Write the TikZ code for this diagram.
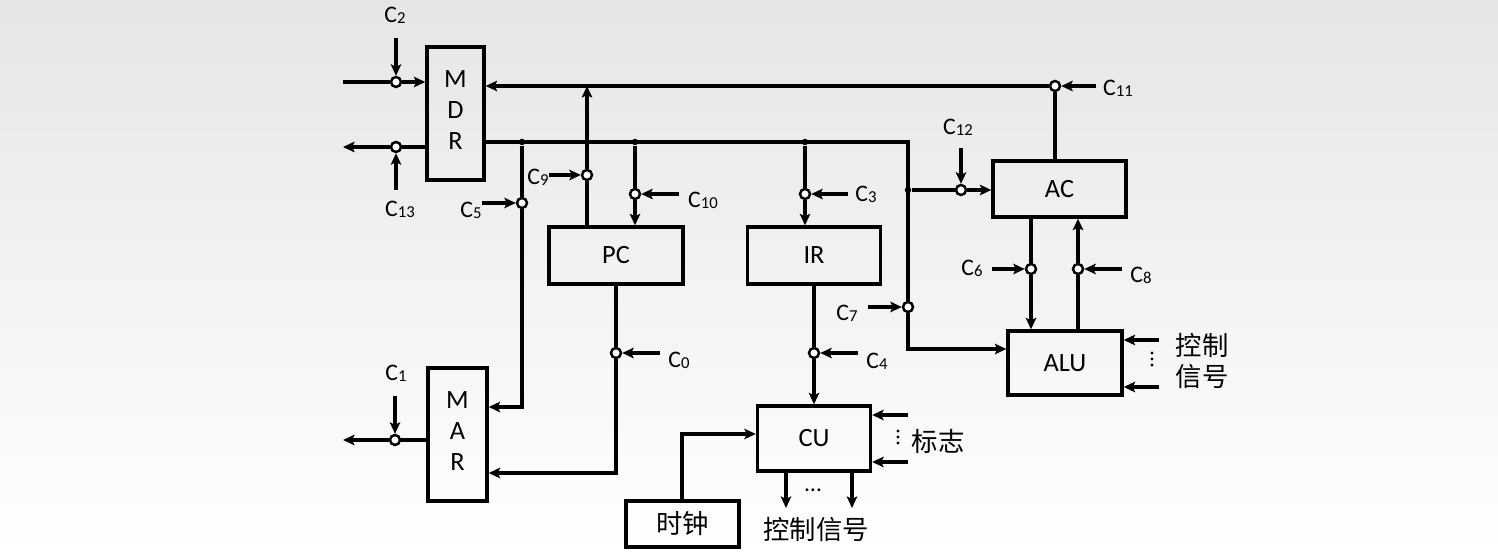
\documentclass[tikz,border=0pt]{standalone}
\usepackage{fontspec}
\setmainfont{Carlito}
\newfontfamily\cjk{Noto Sans CJK SC}
\usepackage{tikz}
\usetikzlibrary{arrows.meta,positioning}
\newcommand{\Cn}[1]{C\raisebox{-0.6pt}{\fontsize{9.5pt}{10pt}\selectfont #1}}

\begin{document}
\begin{tikzpicture}[
    x=0.02cm, y=-0.02cm,
    box/.style={draw, line width=1.9pt, inner sep=0pt, align=center, font=\fontsize{15pt}{17.6pt}\selectfont},
    gate/.style={circle, draw, fill=white, line width=1.4pt, inner sep=0pt, minimum size=0.2cm},
    jdot/.style={circle, fill=black, inner sep=0pt, minimum size=0.13cm},
    arr/.style={-{Stealth[length=2.3mm, width=2.1mm, inset=0.5mm]}, line width=1.9pt},
    vdot/.style={line width=1.8pt, line cap=round, dash pattern=on 0pt off 0.12cm},
    lbl/.style={inner sep=0pt, font=\fontsize{13.5pt}{15pt}\selectfont},
    zh/.style={inner sep=0pt, align=center, font=\cjk\fontsize{15pt}{17.6pt}\selectfont},
]
\useasboundingbox (0,0) rectangle (1498,553);
\shade[top color=black!10, bottom color=white] (0,0) rectangle (1498,553);

% Registers and units
\node[box, minimum width=1.14cm, minimum height=2.66cm, text depth=4pt] (mdr) at (455.5,113.5) {M\\D\\R};
\node[box, minimum width=1.18cm, minimum height=2.66cm, text depth=4pt] (mar) at (457.5,434.5) {M\\A\\R};
\node[box, minimum width=2.68cm, minimum height=1.14cm] (pc) at (616,255.5) {PC};
\node[box, minimum width=2.66cm, minimum height=1.14cm] (ir) at (814,255.5) {IR};
\node[box, minimum width=2.66cm, minimum height=1.12cm] (ac) at (1059.5,189) {AC};
\node[box, minimum width=2.28cm, minimum height=1.28cm] (alu) at (1065,363) {ALU};
\node[box, minimum width=2.26cm, minimum height=1.30cm] (cu) at (814,438.5) {CU};
\node[box, minimum width=2.26cm, minimum height=0.92cm, font=\cjk\fontsize{15pt}{17.6pt}\selectfont] (clk) at (682.5,524) {时钟};

% Control gates
\node[gate] (g2) at (396,82) {};
\node[gate] (g13) at (396,147) {};
\node[gate] (g1) at (395,440) {};
\node[gate] (g5) at (522,203) {};
\node[gate] (g9) at (587,175) {};
\node[gate] (g10) at (635,194) {};
\node[gate] (g3) at (805,194) {};
\node[gate] (g0) at (616,353) {};
\node[gate] (g4) at (814,353) {};
\node[gate] (g7) at (908,307) {};
\node[gate] (g12) at (961,190) {};
\node[gate] (g11) at (1055,86) {};
\node[gate] (g6) at (1031,269) {};
\node[gate] (g8) at (1078,269) {};

% Junctions
\node[jdot] (d5) at (522,142) {};
\node[jdot] (d10) at (635,142) {};
\node[jdot] (d3) at (805,142) {};
\node[jdot] (d12) at (908,190) {};

% Corners and free ends
\coordinate (in2) at (343,82);
\coordinate (out13) at (343,147);
\coordinate (out1) at (343,440);
\coordinate (b0) at (908,142);
\coordinate (k7) at (908,349);
\coordinate (k5) at (522,407);
\coordinate (k0) at (616,473);
\coordinate (k8) at (682,434);
\coordinate (a1) at (1159,340);
\coordinate (a2) at (1159,387);
\coordinate (f1) at (908,415);
\coordinate (f2) at (908,462);
\coordinate (o1) at (786,508);
\coordinate (o2) at (852,508);

% Signal tails
\coordinate (t2) at (396,38);
\coordinate (t13) at (396,190);
\coordinate (t1) at (395,396);
\coordinate (t5) at (482,203);
\coordinate (t9) at (549,175);
\coordinate (t10) at (679,194);
\coordinate (t3) at (848,194);
\coordinate (t0) at (660,353);
\coordinate (t4) at (858,353);
\coordinate (t7) at (868,307);
\coordinate (t12) at (961,148);
\coordinate (t11) at (1096,86);
\coordinate (t6) at (992,269);
\coordinate (t8) at (1122,269);

% Data paths
\draw[arr] (in2) -- (g2) -- (mdr.west |- g2);
\draw[arr] (mdr.west |- g13) -- (g13) -- (out13);
\draw[arr] (mar.west |- g1) -- (g1) -- (out1);
\draw[arr] (mdr.east |- b0) -- (b0) -- (g7) -- (k7) -- (alu.west |- k7);
\draw[arr] (d5) -- (g5) -- (k5) -- (mar.east |- k5);
\draw[arr] (g9 |- pc.north) -- (g9) -- (g9 |- g11);
\draw[arr] (d10) -- (g10) -- (pc.north -| g10);
\draw[arr] (d3) -- (g3) -- (ir.north -| g3);
\draw[arr] (pc.south) -- (g0) -- (k0) -- (mar.east |- k0);
\draw[arr] (ir.south) -- (g4) -- (cu.north);
\draw[arr] (d12) -- (g12) -- (ac.west |- g12);
\draw[arr] (g11 |- ac.north) -- (g11) -- (mdr.east |- g11);
\draw[arr] (ac.south -| g6) -- (g6) -- (alu.north -| g6);
\draw[arr] (alu.north -| g8) -- (g8) -- (ac.south -| g8);
\draw[arr] (clk.north -| k8) -- (k8) -- (cu.west |- k8);
\draw[arr] (a1) -- (alu.east |- a1);
\draw[arr] (a2) -- (alu.east |- a2);
\draw[arr] (f1) -- (cu.east |- f1);
\draw[arr] (f2) -- (cu.east |- f2);
\draw[arr] (cu.south -| o1) -- (o1);
\draw[arr] (cu.south -| o2) -- (o2);

% Control signals
\draw[arr] (t2) -- (g2);
\draw[arr] (t13) -- (g13);
\draw[arr] (t1) -- (g1);
\draw[arr] (t5) -- (g5);
\draw[arr] (t9) -- (g9);
\draw[arr] (t10) -- (g10);
\draw[arr] (t3) -- (g3);
\draw[arr] (t0) -- (g0);
\draw[arr] (t4) -- (g4);
\draw[arr] (t7) -- (g7);
\draw[arr] (t12) -- (g12);
\draw[arr] (t11) -- (g11);
\draw[arr] (t6) -- (g6);
\draw[arr] (t8) -- (g8);

% Labels
\node[lbl] (l2) at (395,15) {\Cn{2}};
\node[lbl] (l13) at (400,209) {\Cn{13}};
\node[lbl] (l1) at (396,373) {\Cn{1}};
\node[lbl] (l5) at (471,210) {\Cn{5}};
\node[lbl] (l9) at (538,177) {\Cn{9}};
\node[lbl] (l10) at (703,200) {\Cn{10}};
\node[lbl] (l3) at (866,194) {\Cn{3}};
\node[lbl] (l0) at (679,360) {\Cn{0}};
\node[lbl] (l4) at (877,361) {\Cn{4}};
\node[lbl] (l7) at (847,313) {\Cn{7}};
\node[lbl] (l12) at (958,127) {\Cn{12}};
\node[lbl] (l11) at (1118,88) {\Cn{11}};
\node[lbl] (l6) at (972,268) {\Cn{6}};
\node[lbl] (l8) at (1141,275) {\Cn{8}};

\draw[vdot] (1152,353) -- (1152,366);
\node[zh] (ctl) at (1202,361) {控制\\信号};
\draw[vdot] (898,431) -- (898,444);
\node[zh] (flag) at (938,441) {标志};
\node[lbl] (ell) at (813,490) {…};
\node[zh] (sig) at (816,530) {控制信号};
\end{tikzpicture}
\end{document}
